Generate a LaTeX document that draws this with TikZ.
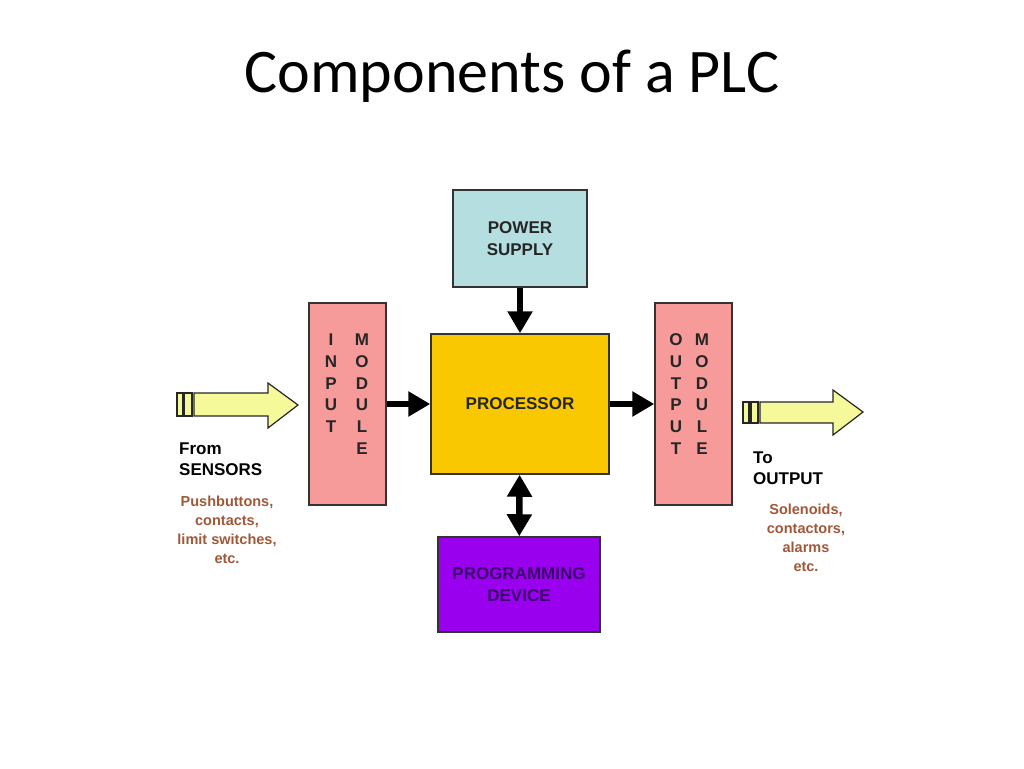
\documentclass[tikz,border=0pt]{standalone}
\usepackage{fontspec}
\setmainfont{Liberation Sans}
\newfontfamily\titlefont{Carlito}
\usepackage{tikz}
\usetikzlibrary{arrows.meta, positioning}
\definecolor{powercolor}{RGB}{180,222,224}
\definecolor{modulecolor}{RGB}{247,154,154}
\definecolor{processorcolor}{RGB}{249,200,0}
\definecolor{programcolor}{RGB}{153,0,238}
\definecolor{flowcolor}{RGB}{246,249,154}
\definecolor{notecolor}{RGB}{160,88,56}
\tikzset{
    block/.style={draw=black!80, line width=1.5pt, inner sep=0pt, align=center,
        font=\fontsize{17}{22}\selectfont\bfseries},
    letters/.style={anchor=north, inner sep=0pt, align=center, text=black!85,
        font=\fontsize{17}{21.8}\selectfont\bfseries},
    bus/.style={line width=6.5pt, -{Triangle[length=22pt, width=24pt]}},
    flow/.style={draw=black!85, line width=1.2pt, fill=flowcolor},
    note/.style={inner sep=0pt, align=center, text=notecolor,
        font=\fontsize{14.5}{19}\selectfont\bfseries}
}

\begin{document}
\begin{tikzpicture}[x=1pt, y=-1pt]
    \useasboundingbox (0,0) rectangle (1024,768);
    \fill[white] (0,0) rectangle (1024,768);

    % Title
    \node[anchor=base, font=\titlefont\fontsize{62}{70}\selectfont] (title) at (512,92) {Components of a PLC};

    % Blocks
    \node[block, fill=powercolor, minimum width=134pt, minimum height=97pt, text=black!85] (power) at (520,238.5) {POWER\\SUPPLY};
    \node[block, fill=modulecolor, minimum width=77pt, minimum height=202pt] (input) at (347.5,404) {};
    \node[block, fill=processorcolor, minimum width=178pt, minimum height=140pt, text=black!85] (processor) at (520,404) {PROCESSOR};
    \node[block, fill=modulecolor, minimum width=77pt, minimum height=202pt] (output) at (693.5,404) {};
    \node[block, fill=programcolor, minimum width=162pt, minimum height=95pt, text={rgb,255:red,60;green,0;blue,110}] (program) at (519,584.5) {PROGRAMMING\\DEVICE};

    % Module lettering
    \node[letters] (inword) at (331,333.5) {I\\N\\P\\U\\T};
    \node[letters] (inmod) at (362,333.5) {M\\O\\D\\U\\L\\E};
    \node[letters] (outword) at (676,333.5) {O\\U\\T\\P\\U\\T};
    \node[letters] (outmod) at (702,333.5) {M\\O\\D\\U\\L\\E};

    % Connections
    \draw[bus] (power) -- (processor);
    \draw[bus] (input) -- (processor);
    \draw[bus] (processor) -- (output);
    \draw[bus, {Triangle[length=22pt, width=24pt]}-{Triangle[length=22pt, width=24pt]}] (processor) -- (program);

    % Field signals in
    \draw[flow] (177,393) rectangle (183,416);
    \draw[flow] (184,393) rectangle (192,416);
    \draw[flow] (194,393) -- (268,393) -- (268,383) -- (298,405) -- (268,428) -- (268,416) -- (194,416) -- cycle;
    \node[anchor=north west, inner sep=0pt, align=left, font=\fontsize{17}{21}\selectfont\bfseries] (from) at (179,443) {From\\SENSORS};
    \node[note, anchor=north] (sensors) at (227,496) {Pushbuttons,\\contacts,\\limit switches,\\etc.};

    % Field signals out
    \draw[flow] (743,402) rectangle (749,423);
    \draw[flow] (751,402) rectangle (758,423);
    \draw[flow] (760,402) -- (833,402) -- (833,390) -- (863,412) -- (833,435) -- (833,423) -- (760,423) -- cycle;
    \node[anchor=north west, inner sep=0pt, align=left, font=\fontsize{17}{21}\selectfont\bfseries] (to) at (753,452) {To\\OUTPUT};
    \node[note, anchor=north] (actuators) at (806,504) {Solenoids,\\contactors,\\alarms\\etc.};
\end{tikzpicture}
\end{document}
